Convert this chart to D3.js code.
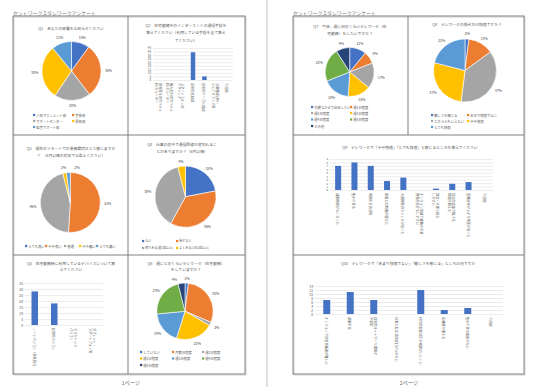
<!DOCTYPE html>
<html>
<head>
<meta charset="utf-8">
<script src="https://cdn.jsdelivr.net/npm/d3@7"></script>
<style>
  body { margin: 0; background: #fff; }
  svg text { font-family: "Noto Sans CJK JP", "Noto Sans", sans-serif; }
</style>
</head>
<body>
<svg id="page" width="537" height="387"></svg>
<script>
// Excel default series colours
var palette = ["#4472C4", "#ED7D31", "#A5A5A5", "#FFC000", "#5B9BD5", "#70AD47", "#264478"];

// ---- survey data ----
var q1Labels = ["人材マネジメント部", "営業部", "サポートセンター", "開発部", "経営サポート部"];
var q1Values = [10, 30, 20, 30, 11];

var q2Labels = ["会社貸与のモバイル\nWi-Fiルーター", "個人契約のモバイル\nWi-Fiルーター", "スマートフォンの\nテザリング",
                "自宅の光回線", "自宅のケーブル回線", "公衆無線LAN・\nシェアオフィス等", "その他"];
var q2Values = [0, 0, 0, 39, 5, 0, 0];
var q2Ticks = [0, 5, 10, 15, 20, 25, 30, 35, 40, 45];

var q3Labels = ["とても良い", "やや良い", "普通", "やや悪い", "とても悪い"];
var q3Values = [0, 51, 45, 2, 2];

var q4Labels = ["ない", "殆どない", "時々ある(週1回以上)", "よくある(1日1回以上)"];
var q4Values = [22, 36, 38, 4];

var q5Labels = ["ノートパソコン（会社貸与）", "私物のパソコン", "デスクトップ\nパソコン", "タブレット・\nスマートフォン等"];
var q5Values = [28, 18, 0, 0];
var q5Ticks = [0, 5, 10, 15, 20, 25, 30, 35];

var q6Labels = ["していない", "月数日程度", "週1日程度", "週2日程度", "週3日程度", "週4日程度", "週5日程度"];
var q6Values = [2, 30, 2, 22, 19, 23, 4];

var q7Labels = ["可能なかぎり出社したい", "週1日程度", "週2日程度", "週3日程度", "週4日程度", "週5日程度", "その他"];
var q7Values = [11, 8, 17, 15, 18, 22, 9];

var q8Labels = ["難しさを感じる", "あまり快適でない", "どちらともいえない", "やや快適", "とても快適"];
var q8Values = [2, 13, 37, 27, 21];

var q9Labels = ["通勤時間がなくなった", "集中できる", "時間を有効活用", "家族との時間が増えた", "人間関係のストレスが減った",
                "オンライン会議で移動が不要\n資料の共有もしやすい", "育児・介護と両立\nしやすい", "自分の裁量で働ける\n時間が増えた",
                "業務効率が上がり残業が減った", "その他"];
var q9Values = [7, 8, 7, 2.6, 3.6, 0, 0.4, 1.8, 2.3, 0];
var q9Ticks = [0, 1, 2, 3, 4, 5, 6, 7, 8, 9];

var q10Labels = ["オンラインでの意思疎通が難しい", "運動不足", "自宅のネットワーク環境が\n不安定", "仕事と私生活の区別がつかない",
                 "社内の情報共有や相談がしにくい", "光熱費が増える", "集中できる場所がない", "その他"];
var q10Values = [7, 11, 7, 0, 12, 2, 3, 0];
var q10Ticks = [0, 2, 4, 6, 8, 10, 12, 14];

var svg = d3.select("#page");

// divider between the two pages
svg.append("line").attr("x1", 267).attr("x2", 267).attr("y1", 0).attr("y2", 387)
    .attr("stroke", "#d6d6d6").attr("stroke-width", 1.5);

// page frames
function frame(x0, y0, x1, y1, inner) {
    svg.append("rect").attr("x", x0 + 1).attr("y", y0 + 1).attr("width", x1 - x0).attr("height", y1 - y0)
        .attr("fill", "none").attr("stroke", "#cfcfcf").attr("stroke-width", 1);
    svg.append("rect").attr("x", x0).attr("y", y0).attr("width", x1 - x0).attr("height", y1 - y0)
        .attr("fill", "none").attr("stroke", "#808080").attr("stroke-width", 1);
    inner.forEach(function(l) {
        svg.append("line").attr("x1", l[0]).attr("y1", l[1]).attr("x2", l[2]).attr("y2", l[3])
            .attr("stroke", "#808080").attr("stroke-width", 1);
    });
}
frame(13, 16, 245, 374, [[128, 16, 128, 374], [13, 135, 245, 135], [13, 255, 245, 255]]);
frame(293, 16, 524, 374, [[408, 16, 408, 135], [293, 135, 524, 135], [293, 255, 524, 255]]);

// headers and footers
function txt(x, y, s, size, fill, anchor) {
    return svg.append("text").attr("x", x).attr("y", y).text(s)
        .attr("font-size", size).attr("fill", fill || "#595959")
        .attr("text-anchor", anchor || "middle").attr("dominant-baseline", "central");
}
txt(13, 12, "セントワークスタレワークアンケート", 4.9, "#7a7a7a", "start");
txt(293, 12, "セントワークスタレワークアンケート", 4.9, "#7a7a7a", "start");
txt(131, 382, "1ページ", 5.2, "#666");
txt(409, 382, "2ページ", 5.2, "#666");

function title(cx, ys, lines) {
    lines.forEach(function(s, i) { txt(cx, ys[i], s, 3.8, "#595959"); });
}

function legend(labels, cols, rows, size) {
    labels.forEach(function(t, i) {
        var x = cols[i % cols.length], y = rows[Math.floor(i / cols.length)];
        svg.append("rect").attr("x", x).attr("y", y - 1.1).attr("width", 2.2).attr("height", 2.2).attr("fill", palette[i]);
        txt(x + 3.3, y, t, size || 3.3, "#595959", "start");
    });
}

function drawPie(cx, cy, r, values) {
    var g = svg.append("g").attr("transform", "translate(" + cx + "," + cy + ")");
    var arcs = d3.pie().sort(null).value(function(d) { return d; })(values);
    var arc = d3.arc().innerRadius(0).outerRadius(r);
    g.selectAll("path").data(arcs).join("path")
        .attr("d", arc)
        .attr("fill", function(d, i) { return palette[i]; })
        .attr("stroke", "#fff").attr("stroke-width", 0.6);
    // percentage labels outside the pie, nudging small neighbours apart
    var minSep = 0.38, prev = -Infinity, labs = [];
    arcs.forEach(function(d) {
        if (!d.value) return;
        var a = (d.startAngle + d.endAngle) / 2;
        if (a - prev < minSep) a = prev + minSep;
        prev = a;
        labs.push({a: a, v: d.value});
    });
    // last label must also keep clear of the first one across 12 o'clock
    var n = labs.length;
    if (n > 1 && labs[0].a + 2 * Math.PI - labs[n - 1].a < minSep) {
        labs[n - 1].a = labs[0].a + 2 * Math.PI - minSep;
    }
    labs.forEach(function(l) {
        var dist = r + 5 + 2.5 * Math.abs(Math.sin(l.a));
        g.append("text").attr("x", dist * Math.sin(l.a)).attr("y", -dist * Math.cos(l.a))
            .attr("text-anchor", "middle").attr("dominant-baseline", "central")
            .attr("font-size", 3.5).attr("fill", "#404040")
            .text(l.v + "%");
    });
}

function drawBars(o) {
    var x = d3.scaleBand().domain(o.labels).range([o.x0, o.x1]);
    var y = d3.scaleLinear().domain([0, d3.max(o.ticks)]).range([o.y1, o.y0]);
    var g = svg.append("g");
    var ax = g.append("g").attr("transform", "translate(" + o.x0 + ",0)")
        .call(d3.axisLeft(y).tickValues(o.ticks).tickSize(-(o.x1 - o.x0)).tickPadding(2));
    ax.select(".domain").remove();
    ax.selectAll("line").attr("stroke", "#d9d9d9").attr("stroke-width", 0.5);
    ax.selectAll("text").attr("font-size", o.tickFont || 3.3).attr("fill", "#595959")
        .attr("font-family", "'Noto Sans CJK JP', sans-serif");
    g.selectAll("rect.bar").data(o.values).join("rect")
        .attr("class", "bar")
        .attr("x", function(d, i) { return x(o.labels[i]) + x.bandwidth() / 2 - o.barW / 2; })
        .attr("y", function(d) { return y(d); })
        .attr("width", o.barW)
        .attr("height", function(d) { return o.y1 - y(d); })
        .attr("fill", "#4472C4");
    // vertical category labels
    o.labels.forEach(function(lab) {
        var lines = lab.split("\n");
        var t = g.append("text")
            .attr("transform", "translate(" + (x(lab) + x.bandwidth() / 2) + "," + (o.y1 + 3) + ") rotate(90)")
            .attr("font-size", 3.2).attr("fill", "#595959").attr("dominant-baseline", "central");
        lines.forEach(function(s, i) {
            t.append("tspan").attr("x", 0).attr("y", (i - (lines.length - 1) / 2) * 3.8).text(s);
        });
    });
}

// ---- page 1 ----
title(71, [28], ["Q1　あなたの部署をお知らせください"]);
drawPie(71.5, 71, 29.5, q1Values);
legend(q1Labels, [33, 72], [115, 121, 127]);

title(186, [25, 32.5, 40], ["Q2　在宅勤務中のインターネットの通信手段を", "教えてください（利用している手段を全て教え", "てください）"]);
drawBars({x0: 153, x1: 233, y0: 48, y1: 80, labels: q2Labels, values: q2Values, ticks: q2Ticks, barW: 4.5, tickFont: 2.9});

title(71, [148, 155], ["Q3　現在のリモートでの業務環境はどう感じますか", "？　（6月以降の状況でお答えください）"]);
drawPie(70.3, 202.5, 30, q3Values);
legend(q3Labels, [25, 45, 64, 79, 96], [246]);

title(182, [144, 151], ["Q4　仕事の途中で通信回線が途切れるこ", "とがありますか？（6月以降）"]);
drawPie(185.5, 196.7, 30.6, q4Values);
legend(q4Labels, [142, 176], [241, 248], 3.0);

title(71, [263, 269.5], ["Q5　在宅勤務時に利用しているデバイスについて教", "えてください"]);
drawBars({x0: 25, x1: 103, y0: 283, y1: 325, labels: q5Labels, values: q5Values, ticks: q5Ticks, barW: 6.5});

title(186, [263, 269.5], ["Q6　週にどのくらいテレワーク（在宅勤務）", "をしていますか？"]);
drawPie(185, 311.3, 28.2, q6Values);
legend(q6Labels, [140, 172, 202], [352, 358.5, 365]);

// ---- page 2 ----
title(350, [26, 33], ["Q7　今後、週に何日くらいテレワーク（在", "宅勤務）をしたいですか？"]);
drawPie(349.7, 72, 24.5, q7Values);
legend(q7Labels, [311, 350], [107, 113, 119.5, 126]);

title(467, [24], ["Q8　テレワークの働き方は快適ですか？"]);
drawPie(465, 70.5, 31.5, q8Values);
legend(q8Labels, [431, 467], [115, 121, 127]);

title(410, [147], ["Q9　テレワークで「やや快適」「とても快適」と感じるところを教えてください"]);
drawBars({x0: 330, x1: 493, y0: 159, y1: 190, labels: q9Labels, values: q9Values, ticks: q9Ticks, barW: 6, tickFont: 2.8});

title(408, [263], ["Q10　テレワークで「あまり快適でない」「難しさを感じる」ところは何ですか"]);
drawBars({x0: 315, x1: 503, y0: 286, y1: 314, labels: q10Labels, values: q10Values, ticks: q10Ticks, barW: 7});
</script>
</body>
</html>
